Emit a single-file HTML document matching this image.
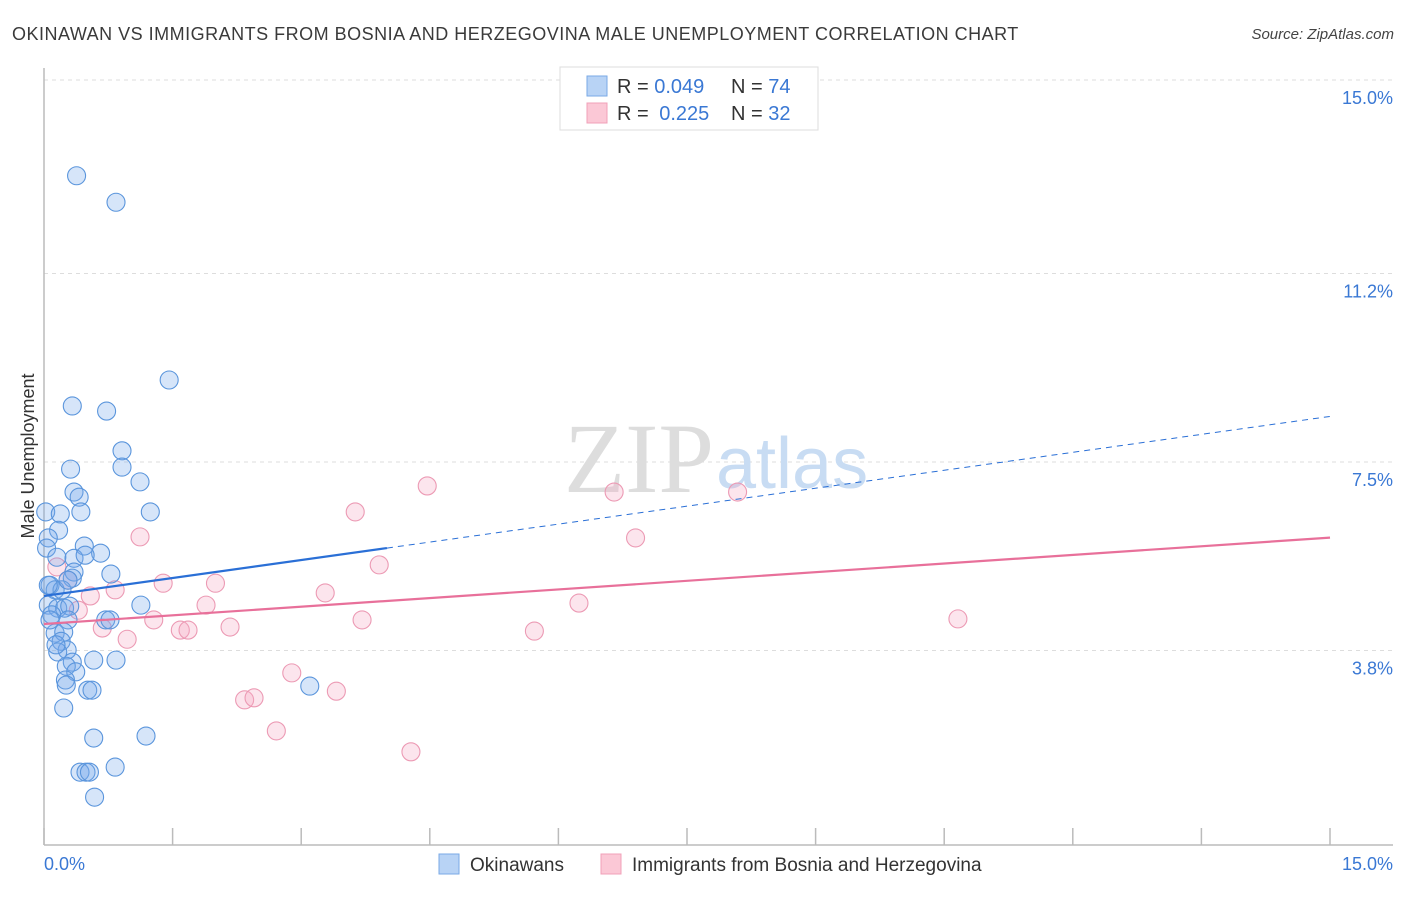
<!DOCTYPE html>
<html><head><meta charset="utf-8"><style>
body{margin:0;background:#fff;font-family:"Liberation Sans",sans-serif;}
svg text{font-family:"Liberation Sans",sans-serif;}
</style></head><body>
<svg width="1406" height="892" viewBox="0 0 1406 892" xmlns="http://www.w3.org/2000/svg">
<text x="12" y="40" font-size="18" fill="#3a3a3a" letter-spacing="0.5">OKINAWAN VS IMMIGRANTS FROM BOSNIA AND HERZEGOVINA MALE UNEMPLOYMENT CORRELATION CHART</text>
<text x="1394" y="39" font-size="15" fill="#444" font-style="italic" text-anchor="end">Source: ZipAtlas.com</text>
<g id="grid"></g>
<text x="714" y="492" font-size="100" fill="#ddd" text-anchor="end" style="font-family:'Liberation Serif',serif">ZIP</text>
<text x="716" y="488" font-size="72" fill="#c8dcf3">atlas</text>
<line x1="44" y1="68" x2="44" y2="845" stroke="#bbb" stroke-width="1.5"/>
<line x1="44" y1="845" x2="1393" y2="845" stroke="#bbb" stroke-width="1.5"/>
<g id="xticks"></g>
<g id="ylabels"></g>
<text x="44" y="870" font-size="18" fill="#3a78d4">0.0%</text>
<text x="1393" y="870" font-size="18" fill="#3a78d4" text-anchor="end">15.0%</text>
<text transform="translate(34,456) rotate(-90)" font-size="18" fill="#333" text-anchor="middle">Male Unemployment</text>
<g id="pink"></g>
<g id="blue"></g>
<g id="trends"></g>
<g>
<rect x="560" y="67" width="258" height="63" fill="#fff" stroke="#ddd"/>
<rect x="587" y="76" width="20" height="20" fill="#b8d3f5" stroke="#7aaae6"/>
<rect x="587" y="103" width="20" height="20" fill="#fbc8d6" stroke="#f0a0b8"/>
<text x="617" y="93" font-size="20" fill="#333">R = <tspan fill="#3a78d4">0.049</tspan></text>
<text x="731" y="93" font-size="20" fill="#333">N = <tspan fill="#3a78d4">74</tspan></text>
<text x="617" y="120" font-size="20" fill="#333">R = <tspan fill="#3a78d4" dx="5">0.225</tspan></text>
<text x="731" y="120" font-size="20" fill="#333">N = <tspan fill="#3a78d4">32</tspan></text>
</g>
<g>
<rect x="439" y="854" width="20" height="20" fill="#b8d3f5" stroke="#7aaae6"/>
<text x="470" y="871" font-size="19" fill="#333">Okinawans</text>
<rect x="601" y="854" width="20" height="20" fill="#fbc8d6" stroke="#f0a0b8"/>
<text x="632" y="871" font-size="19" fill="#333">Immigrants from Bosnia and Herzegovina</text>
</g>
</svg>
<script>
const yTicks=[15.0,11.2,7.5,3.8];
const yTickLabels=["15.0%","11.2%","7.5%","3.8%"];
const xTicks=[0,1.5,3,4.5,6,7.5,9,10.5,12,13.5,15];
const blueX=[0.38,0.84,1.46,0.33,0.73,0.91,0.91,1.12,0.31,0.35,0.41,0.43,1.24,0.02,0.19,0.17,0.05,0.47,0.03,0.15,0.35,0.66,0.48,0.35,0.33,0.78,0.07,0.13,0.21,0.28,0.05,0.16,0.24,0.30,1.13,0.09,0.28,0.72,0.77,0.13,0.23,0.20,0.27,0.16,0.33,0.26,0.37,0.58,0.84,0.25,0.26,0.51,0.56,3.10,0.23,0.58,1.19,0.42,0.49,0.53,0.83,0.59,0.05,0.07,0.14];
const blueY=[13.12,12.60,9.11,8.60,8.50,7.72,7.40,7.11,7.36,6.91,6.81,6.52,6.52,6.52,6.48,6.16,6.01,5.85,5.81,5.63,5.61,5.71,5.67,5.34,5.22,5.30,5.08,4.99,4.99,5.18,4.69,4.63,4.63,4.67,4.69,4.50,4.40,4.40,4.40,4.14,4.16,3.98,3.81,3.77,3.57,3.49,3.38,3.61,3.61,3.22,3.12,3.02,3.02,3.10,2.67,2.08,2.12,1.41,1.41,1.41,1.51,0.92,5.08,4.40,3.91];
const pinkX=[0.15,0.28,0.40,0.54,0.68,0.83,0.97,1.12,1.28,1.39,1.59,1.68,1.89,2.00,2.17,2.34,2.45,2.71,2.89,3.28,3.41,3.63,3.71,3.91,4.28,4.47,5.72,6.24,6.65,6.90,8.09,10.66];
const pinkY=[5.44,5.18,4.59,4.87,4.24,4.99,4.02,6.03,4.40,5.12,4.20,4.20,4.69,5.12,4.26,2.83,2.87,2.22,3.36,4.93,3.00,6.52,4.40,5.48,1.81,7.03,4.18,4.73,6.91,6.01,6.91,4.42];
const blueTrend=[4.87,0.235];
const pinkTrend=[4.32,0.113];
const NS="http://www.w3.org/2000/svg";
const xs=v=>44+v/15*1286;
const ys=v=>844-v/15*764;
function mk(tag,attrs,parent){const e=document.createElementNS(NS,tag);for(const k in attrs)e.setAttribute(k,attrs[k]);document.getElementById(parent).appendChild(e);return e;}
yTicks.forEach((t,i)=>{
 const l=mk('line',{x1:44,x2:1393,y1:ys(t),y2:ys(t),stroke:'#ddd','stroke-dasharray':'4,4'},'grid');
 
 
 const tx=mk('text',{x:1393,y:ys(t)+24,'font-size':18,fill:'#3a78d4','text-anchor':'end'},'ylabels');
 tx.textContent=yTickLabels[i];
 
 
});
xTicks.forEach(t=>{
 const l=mk('line',{x1:xs(t),x2:xs(t),y1:828,y2:845,stroke:'#bbb','stroke-width':1.5},'xticks');
 
 
});
pinkX.forEach((x,i)=>{
 const c=mk('circle',{cx:xs(x),cy:ys(pinkY[i]),r:9,fill:'rgba(246,170,195,0.3)',stroke:'#ec9ab4','stroke-width':1.1},'pink');
 
 
});
blueX.forEach((x,i)=>{
 const c=mk('circle',{cx:xs(x),cy:ys(blueY[i]),r:9,fill:'rgba(120,170,235,0.3)',stroke:'#5a95dc','stroke-width':1.1},'blue');
 
 
});
const bt=v=>blueTrend[0]+blueTrend[1]*v, pt=v=>pinkTrend[0]+pinkTrend[1]*v;
let l=mk('line',{x1:xs(0),y1:ys(bt(0)),x2:xs(4),y2:ys(bt(4)),stroke:'#2a6fd6','stroke-width':2.2},'trends');


l=mk('line',{x1:xs(4),y1:ys(bt(4)),x2:xs(15),y2:ys(bt(15)),stroke:'#2a6fd6','stroke-width':1,'stroke-dasharray':'6,5'},'trends');


l=mk('line',{x1:xs(0),y1:ys(pt(0)),x2:xs(15),y2:ys(pt(15)),stroke:'#e8709a','stroke-width':2.2},'trends');


</script>
</body></html>
